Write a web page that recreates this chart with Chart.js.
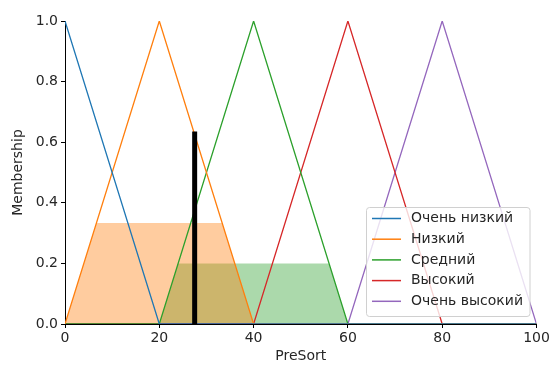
<!DOCTYPE html>
<html>
<head>
<meta charset="utf-8">
<script src="https://cdn.jsdelivr.net/npm/chart.js@4/dist/chart.umd.min.js"></script>
<style>
  html, body { margin: 0; padding: 0; background: #fff; }
  #wrap { width: 549px; height: 365px; position: relative; }
</style>
</head>
<body>
<div id="wrap"><canvas id="myChart"></canvas></div>
<script>
'use strict';
// terms of the PreSort variable
let termNames = ['Очень низкий', 'Низкий', 'Средний', 'Высокий', 'Очень высокий'];
let termColors = ['#1f77b4', '#ff7f0e', '#2ca02c', '#d62728', '#9467bd'];
// triangle corners (x) and membership (y) for each term
let termX = [
  [0, 0, 20, 100],
  [0, 20, 40, 100],
  [0, 20, 40, 60, 100],
  [0, 40, 60, 80, 100],
  [0, 60, 80, 100]
];
let termY = [
  [1, 1, 0, 0],
  [0, 1, 0, 0],
  [0, 0, 1, 0, 0],
  [0, 0, 1, 0, 0],
  [0, 0, 1, 0]
];
// activated (clipped) areas
let lowFillX = [0, 6.67, 33.33, 40];
let lowFillY = [0, 0.333, 0.333, 0];
let midFillX = [20, 24, 56, 60];
let midFillY = [0, 0.2, 0.2, 0];
// crisp output
let crispX = 27.5;
let crispY = 0.635;
let xTicks = [0, 20, 40, 60, 80, 100];
let yTicks = [0, 0.2, 0.4, 0.6, 0.8, 1.0];

function toPoints(xs, ys) {
  let pts = [];
  for (let i = 0; i < xs.length; i++) {
    pts.push({x: xs[i], y: ys[i]});
  }
  return pts;
}

let datasets = [];
for (let i = 0; i < termNames.length; i++) {
  datasets.push({
    label: termNames[i],
    data: toPoints(termX[i], termY[i]),
    borderColor: termColors[i],
    borderWidth: 1.3,
    pointRadius: 0,
    fill: false,
    order: 2
  });
}
datasets.push({
  label: 'fill1',
  data: toPoints(lowFillX, lowFillY),
  borderWidth: 0,
  borderColor: 'rgba(0,0,0,0)',
  backgroundColor: 'rgba(255,127,14,0.4)',
  pointRadius: 0,
  fill: 'origin',
  order: 3
});
datasets.push({
  label: 'fill2',
  data: toPoints(midFillX, midFillY),
  borderWidth: 0,
  borderColor: 'rgba(0,0,0,0)',
  backgroundColor: 'rgba(44,160,44,0.4)',
  pointRadius: 0,
  fill: 'origin',
  order: 3
});
datasets.push({
  label: 'crisp',
  data: toPoints([crispX, crispX], [0, crispY]),
  borderColor: '#000',
  borderWidth: 5,
  pointRadius: 0,
  fill: false,
  order: 0
});

// legend like matplotlib, inside lower right of the plot
let boxLegend = {
  id: 'boxLegend',
  afterDraw(chart) {
    let ctx = chart.ctx;
    let x0 = 366.5, y0 = 207.5, w = 163.5, h = 109;
    ctx.save();
    ctx.fillStyle = 'rgba(255,255,255,0.8)';
    ctx.strokeStyle = '#d0d0d0';
    ctx.lineWidth = 1;
    ctx.beginPath();
    ctx.roundRect(x0, y0, w, h, 3);
    ctx.fill();
    ctx.stroke();
    ctx.font = '14px "DejaVu Sans"';
    ctx.textBaseline = 'middle';
    ctx.fillStyle = '#262626';
    for (let i = 0; i < termNames.length; i++) {
      let yy = 218.5 + i * 20.7;
      ctx.strokeStyle = termColors[i];
      ctx.lineWidth = 1.5;
      ctx.beginPath();
      ctx.moveTo(372, yy);
      ctx.lineTo(401, yy);
      ctx.stroke();
      ctx.fillText(termNames[i], 411, yy);
    }
    ctx.restore();
  }
};

let ctx = document.getElementById('myChart').getContext('2d');
let myChart = new Chart(ctx, {
  type: 'line',
  data: { datasets: datasets },
  plugins: [boxLegend],
  options: {
    responsive: true,
    maintainAspectRatio: false,
    animation: false,
    layout: { padding: { left: 10, right: 12.5, top: 21, bottom: 0 } },
    plugins: {
      legend: { display: false },
      tooltip: { enabled: false }
    },
    scales: {
      x: {
        type: 'linear',
        min: 0,
        max: 100,
        afterFit(scale) { scale.height = 41; scale.paddingLeft = 0; scale.paddingRight = 0; },
        afterBuildTicks(scale) { scale.ticks = xTicks.map(v => ({value: v})); },
        ticks: { color: '#262626', font: { family: 'DejaVu Sans', size: 14 }, padding: 2, maxRotation: 0 },
        grid: { drawOnChartArea: false, drawTicks: true, tickLength: 4, color: '#000' },
        border: { display: true, color: '#000', width: 1 },
        title: { display: true, text: 'PreSort', color: '#262626', font: { family: 'DejaVu Sans', size: 14 }, padding: { top: 4, bottom: 0 } }
      },
      y: {
        min: 0,
        max: 1,
        afterFit(scale) { scale.width = 55; scale.paddingTop = 0; scale.paddingBottom = 0; },
        afterBuildTicks(scale) { scale.ticks = yTicks.map(v => ({value: v})); },
        ticks: { color: '#262626', font: { family: 'DejaVu Sans', size: 14 }, padding: 3, callback: v => v.toFixed(1) },
        grid: { drawOnChartArea: false, drawTicks: true, tickLength: 4, color: '#000' },
        border: { display: true, color: '#000', width: 1 },
        title: { display: true, text: 'Membership', color: '#262626', font: { family: 'DejaVu Sans', size: 14 }, padding: { top: 0, bottom: 6 } }
      }
    }
  }
});
</script>
</body>
</html>
